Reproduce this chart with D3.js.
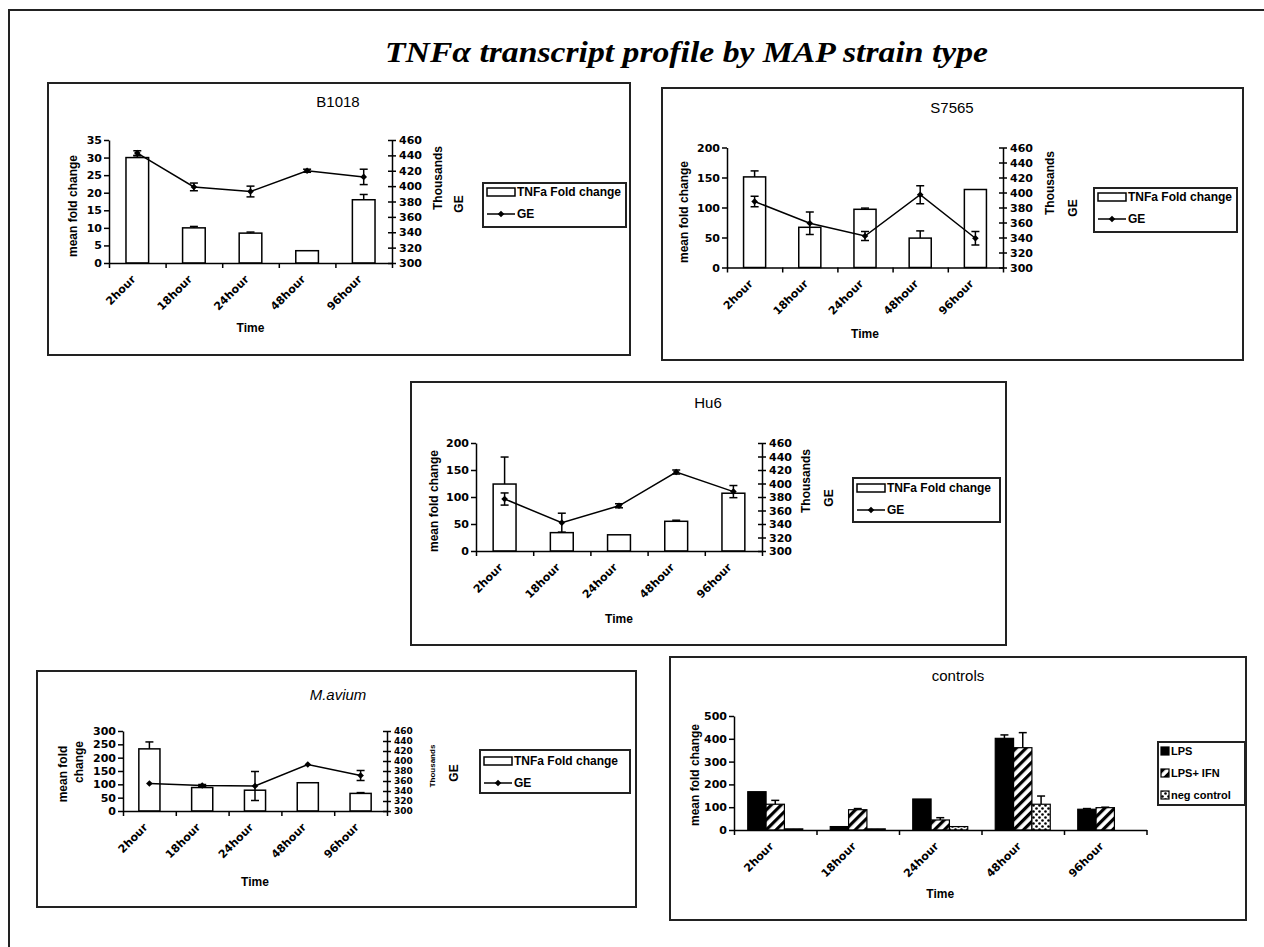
<!DOCTYPE html>
<html><head><meta charset="utf-8">
<script src="https://cdn.jsdelivr.net/npm/d3@7"></script>
<style>body{margin:0;background:#fff}svg{display:block}</style>
</head><body>
<svg id="c" width="1264" height="947"></svg>
<script>
// ---------------- DATA ----------------
const times = ["2hour", "18hour", "24hour", "48hour", "96hour"];
const geTicks = [300, 320, 340, 360, 380, 400, 420, 440, 460];

const b1018Fold = [30, 10, 8.5, 3.5, 18];
const b1018FoldErr = [0.5, 0.4, 0.3, 0, 1.5];
const b1018GE = [443, 399, 393, 420, 412];
const b1018GEErr = [3, 5, 7, 2, 10];
const b1018Ticks = [0, 5, 10, 15, 20, 25, 30, 35];

const s7565Fold = [151, 67, 97, 49, 130];
const s7565FoldErr = [10, 0, 2, 12, 0];
const s7565GE = [388, 359, 342, 397, 339];
const s7565GEErr = [7, 15, 6, 12, 9];
const s7565Ticks = [0, 50, 100, 150, 200];

const hu6Fold = [124, 34, 30, 55, 107];
const hu6FoldErr = [50, 0, 0, 2, 0];
const hu6GE = [377, 342, 367, 417, 388];
const hu6GEErr = [9, 14, 3, 3, 9];
const hu6Ticks = [0, 50, 100, 150, 200];

const maviumFold = [233, 88, 78, 106, 66];
const maviumFoldErr = [26, 2, 0, 0, 3];
const maviumGE = [355, 351, 350, 393, 371];
const maviumGEErr = [0, 2, 29, 0, 10];
const maviumTicks = [0, 50, 100, 150, 200, 250, 300];

const controlSeries = ["LPS", "LPS+ IFN", "neg control"];
const ctrlLPS = [168, 15, 136, 402, 91];
const ctrlLPSErr = [0, 0, 0, 15, 3];
const ctrlLPSIFN = [113, 89, 44, 361, 98];
const ctrlLPSIFNErr = [17, 5, 10, 66, 2];
const ctrlNeg = [5, 5, 15, 113, 0];
const ctrlNegErr = [0, 0, 0, 36, 0];
const ctrlTicks = [0, 100, 200, 300, 400, 500];

// ---------------- DRAWING ----------------
const FONT = "'Liberation Sans', Arial, sans-serif";
const TICKFONT = "'DejaVu Sans', Verdana, sans-serif";
const svg = d3.select("#c");
svg.append("rect").attr("width", 1264).attr("height", 947).attr("fill", "#fff");

const defs = svg.append("defs");
const hatch = defs.append("pattern").attr("id", "hatch").attr("patternUnits", "userSpaceOnUse")
  .attr("width", 7).attr("height", 7).attr("patternTransform", "rotate(45)");
hatch.append("rect").attr("width", 7).attr("height", 7).attr("fill", "#fff");
hatch.append("rect").attr("width", 3.2).attr("height", 7).attr("fill", "#000");
const dots = defs.append("pattern").attr("id", "dots").attr("patternUnits", "userSpaceOnUse")
  .attr("width", 6).attr("height", 6);
dots.append("rect").attr("width", 6).attr("height", 6).attr("fill", "#fff");
dots.append("circle").attr("cx", 1.5).attr("cy", 1.5).attr("r", 1.3).attr("fill", "#000");
dots.append("circle").attr("cx", 4.5).attr("cy", 4.5).attr("r", 1.3).attr("fill", "#000");

// outer frame
svg.append("rect").attr("x", 9).attr("y", 10).attr("width", 1300).attr("height", 1000)
  .attr("fill", "none").attr("stroke", "#222").attr("stroke-width", 2);

svg.append("text").attr("x", 686.5).attr("y", 62).attr("text-anchor", "middle")
  .attr("textLength", 603).attr("lengthAdjust", "spacingAndGlyphs")
  .style("font-family", "'Liberation Serif', 'Times New Roman', serif")
  .style("font-weight", "bold").style("font-style", "italic").style("font-size", "30px")
  .text("TNFα transcript profile by MAP strain type");

function styleText(sel, size, weight, fam) {
  sel.style("font-family", fam || FONT).style("font-size", size + "px").style("font-weight", weight || "bold").attr("fill", "#000");
}

function panelFrame(g, box, title, tx, ty, italic) {
  g.append("rect").attr("x", box[0]).attr("y", box[1]).attr("width", box[2] - box[0]).attr("height", box[3] - box[1])
    .attr("fill", "none").attr("stroke", "#222").attr("stroke-width", 2);
  g.append("text").attr("x", tx).attr("y", ty).attr("text-anchor", "middle").attr("dominant-baseline", "central")
    .call(styleText, 15, "normal").style("font-style", italic ? "italic" : "normal").text(title);
}

function rotLabel(g, x, y, txt, size) {
  g.append("text").attr("transform", `translate(${x},${y}) rotate(-90)`).attr("text-anchor", "middle")
    .attr("dominant-baseline", "central").call(styleText, size || 12).text(txt);
}

function xAxes(g, x, x0, x1, y0, timeY) {
  const xb = d3.scaleLinear().domain([0, times.length]).range([x0, x1]);
  const ax = g.append("g").attr("transform", `translate(0,${y0})`)
    .call(d3.axisBottom(xb).tickValues(d3.range(times.length + 1)).tickFormat("").tickSize(5).tickSizeOuter(0));
  ax.selectAll("path,line").attr("stroke", "#000").attr("stroke-width", 1.5);
  const lab = g.append("g").attr("transform", `translate(0,${y0})`)
    .call(d3.axisBottom(x).tickSize(0).tickPadding(0));
  lab.select(".domain").remove();
  lab.selectAll("text").attr("x", 0).attr("y", 0).attr("dy", null).attr("text-anchor", "end")
    .attr("transform", "translate(-1,17) rotate(-45)").call(styleText, 11, "bold", TICKFONT);
  g.append("text").attr("x", (x0 + x1) / 2).attr("y", timeY).attr("text-anchor", "middle")
    .attr("dominant-baseline", "central").call(styleText, 12).text("Time");
}

function leftAxis(g, yL, ticks, x0) {
  const a = g.append("g").attr("transform", `translate(${x0},0)`)
    .call(d3.axisLeft(yL).tickValues(ticks).tickSize(5).tickSizeOuter(0).tickPadding(2));
  a.selectAll("path,line").attr("stroke", "#000").attr("stroke-width", 1.5);
  a.selectAll("text").call(styleText, 11, "bold", TICKFONT);
}

function errBar(g, cx, yTop, yBot, capW) {
  g.append("line").attr("x1", cx).attr("x2", cx).attr("y1", yTop).attr("y2", yBot).attr("stroke", "#000").attr("stroke-width", 1.5);
  g.append("line").attr("x1", cx - capW / 2).attr("x2", cx + capW / 2).attr("y1", yTop).attr("y2", yTop).attr("stroke", "#000").attr("stroke-width", 1.5);
}

function comboPanel(p) {
  const g = svg.append("g");
  panelFrame(g, p.box, p.title, p.titleXY[0], p.titleXY[1], p.italic);
  const x = d3.scaleBand().domain(times).range([p.x0, p.x1]);
  const yL = d3.scaleLinear().domain([0, d3.max(p.leftTicks)]).range([p.y0, p.yTop]);
  const yR = d3.scaleLinear().domain([d3.min(geTicks), d3.max(geTicks)]).range([p.y0, p.yTop]);
  const bw = x.bandwidth() * 0.4;
  const cx = d => x(d) + x.bandwidth() / 2;

  g.selectAll(".bar").data(times).join("rect")
    .attr("x", d => cx(d) - bw / 2).attr("y", (d, i) => yL(p.fold[i]))
    .attr("width", bw).attr("height", (d, i) => yL(0) - yL(p.fold[i]))
    .attr("fill", "#fff").attr("stroke", "#000").attr("stroke-width", 1.5);
  times.forEach((d, i) => {
    if (p.foldErr[i] > 0) errBar(g, cx(d), yL(p.fold[i] + p.foldErr[i]), yL(p.fold[i]), 8);
  });

  leftAxis(g, yL, p.leftTicks, p.x0);
  const ra = g.append("g").attr("transform", `translate(${p.x1},0)`)
    .call(d3.axisRight(yR).tickValues(geTicks).tickSize(4).tickSizeOuter(0).tickPadding(3));
  ra.selectAll("path,line").attr("stroke", "#000").attr("stroke-width", 1.5);
  ra.selectAll(".tick line").attr("x1", -4);
  ra.selectAll("text").call(styleText, p.rightTickSize || 11, "bold", TICKFONT);
  xAxes(g, x, p.x0, p.x1, p.y0, p.timeY);

  const line = d3.line().x((v, i) => cx(times[i])).y(v => yR(v));
  g.append("path").datum(p.ge).attr("d", line).attr("fill", "none").attr("stroke", "#000").attr("stroke-width", 1.5);
  times.forEach((d, i) => {
    const e = p.geErr[i];
    if (e > 0) {
      const yt = yR(p.ge[i] + e), yb = yR(p.ge[i] - e);
      g.append("line").attr("x1", cx(d)).attr("x2", cx(d)).attr("y1", yt).attr("y2", yb).attr("stroke", "#000").attr("stroke-width", 1.5);
      [yt, yb].forEach(yy => g.append("line").attr("x1", cx(d) - 4).attr("x2", cx(d) + 4).attr("y1", yy).attr("y2", yy).attr("stroke", "#000").attr("stroke-width", 1.5));
    }
  });
  g.selectAll(".mk").data(p.ge).join("path")
    .attr("d", d3.symbol(d3.symbolSquare, 22))
    .attr("transform", (v, i) => `translate(${cx(times[i])},${yR(v)}) rotate(45)`).attr("fill", "#000");

  // axis titles
  if (Array.isArray(p.leftLabel)) {
    p.leftLabel.forEach(l => rotLabel(g, l[1], l[2], l[0]));
  } else rotLabel(g, p.leftLabelXY[0], p.leftLabelXY[1], p.leftLabel);
  rotLabel(g, p.thouXY[0], p.thouXY[1], "Thousands", p.thouSize || 12);
  rotLabel(g, p.geXY[0], p.geXY[1], "GE");

  // legend
  const L = p.legend;
  g.append("rect").attr("x", L[0]).attr("y", L[1]).attr("width", L[2] - L[0]).attr("height", L[3] - L[1])
    .attr("fill", "#fff").attr("stroke", "#222").attr("stroke-width", 2);
  g.append("rect").attr("x", L[0] + 4).attr("y", p.legendRows[0] - 4).attr("width", 28).attr("height", 8)
    .attr("fill", "#fff").attr("stroke", "#000").attr("stroke-width", 1.5);
  g.append("text").attr("x", L[0] + 34).attr("y", p.legendRows[0]).attr("dominant-baseline", "central")
    .call(styleText, 12).text("TNFa Fold change");
  g.append("line").attr("x1", L[0] + 4).attr("x2", L[0] + 32).attr("y1", p.legendRows[1]).attr("y2", p.legendRows[1])
    .attr("stroke", "#000").attr("stroke-width", 1.5);
  g.append("path").attr("d", d3.symbol(d3.symbolSquare, 22)())
    .attr("transform", `translate(${L[0] + 18},${p.legendRows[1]}) rotate(45)`).attr("fill", "#000");
  g.append("text").attr("x", L[0] + 34).attr("y", p.legendRows[1]).attr("dominant-baseline", "central")
    .call(styleText, 12).text("GE");
}

comboPanel({
  box: [48, 83, 630, 355], title: "B1018", titleXY: [338, 101],
  x0: 109, x1: 392, y0: 263, yTop: 140, timeY: 328,
  leftTicks: b1018Ticks, fold: b1018Fold, foldErr: b1018FoldErr, ge: b1018GE, geErr: b1018GEErr,
  leftLabel: "mean fold change", leftLabelXY: [73, 206],
  thouXY: [438, 178], geXY: [459, 204],
  legend: [483, 183, 626, 227], legendRows: [192, 214]
});
comboPanel({
  box: [662, 88, 1243, 360], title: "S7565", titleXY: [952, 107],
  x0: 727, x1: 1003, y0: 267.5, yTop: 147.5, timeY: 334,
  leftTicks: s7565Ticks, fold: s7565Fold, foldErr: s7565FoldErr, ge: s7565GE, geErr: s7565GEErr,
  leftLabel: "mean fold change", leftLabelXY: [684, 212],
  thouXY: [1050, 183], geXY: [1073, 208],
  legend: [1094, 188, 1237, 232], legendRows: [197, 219]
});
comboPanel({
  box: [411, 382, 1006, 645], title: "Hu6", titleXY: [708, 402],
  x0: 476, x1: 762, y0: 551, yTop: 443, timeY: 619,
  leftTicks: hu6Ticks, fold: hu6Fold, foldErr: hu6FoldErr, ge: hu6GE, geErr: hu6GEErr,
  leftLabel: "mean fold change", leftLabelXY: [434, 501],
  thouXY: [806, 481], geXY: [829, 498],
  legend: [853, 478, 1000, 522], legendRows: [488, 510]
});
comboPanel({
  box: [37, 671, 636, 907], title: "M.avium", titleXY: [338, 694], italic: true,
  x0: 123, x1: 387, y0: 811, yTop: 731, timeY: 882,
  leftTicks: maviumTicks, fold: maviumFold, foldErr: maviumFoldErr, ge: maviumGE, geErr: maviumGEErr,
  leftLabel: [["mean fold", 63, 774], ["change", 79, 762]],
  thouXY: [432, 766], thouSize: 8, geXY: [454, 773], rightTickSize: 9,
  legend: [480, 750, 630, 793], legendRows: [761, 783]
});

// ---- controls panel ----
(function () {
  const g = svg.append("g");
  panelFrame(g, [670, 657, 1246, 920], "controls", 958, 675, false);
  const x0 = 734, x1 = 1146.5, y0 = 830, yTop = 716;
  const x = d3.scaleBand().domain(times).range([x0, x1]);
  const inner = d3.scaleBand().domain(controlSeries).range([0, x.bandwidth()]).paddingInner(0).paddingOuter(0.75);
  const y = d3.scaleLinear().domain([0, d3.max(ctrlTicks)]).range([y0, yTop]);
  const vals = [ctrlLPS, ctrlLPSIFN, ctrlNeg];
  const errs = [ctrlLPSErr, ctrlLPSIFNErr, ctrlNegErr];
  const fills = ["#000", "url(#hatch)", "url(#dots)"];
  controlSeries.forEach((s, si) => {
    g.selectAll(".b" + si).data(times).join("rect")
      .attr("x", d => x(d) + inner(s)).attr("y", (d, i) => y(vals[si][i]))
      .attr("width", inner.bandwidth()).attr("height", (d, i) => y(0) - y(vals[si][i]))
      .attr("fill", fills[si]).attr("stroke", "#000").attr("stroke-width", 1.2);
  });
  controlSeries.forEach((s, si) => {
    times.forEach((d, i) => {
      if (errs[si][i] > 0) {
        const c = x(d) + inner(s) + inner.bandwidth() / 2;
        errBar(g, c, y(vals[si][i] + errs[si][i]), y(vals[si][i]), 8);
      }
    });
  });
  leftAxis(g, y, ctrlTicks, x0);
  xAxes(g, x, x0, x1, y0, 894);
  rotLabel(g, 695, 775, "mean fold change");
  const L = [1158, 742, 1245, 805], rows = [751, 773, 795];
  g.append("rect").attr("x", L[0]).attr("y", L[1]).attr("width", L[2] - L[0]).attr("height", L[3] - L[1])
    .attr("fill", "#fff").attr("stroke", "#222").attr("stroke-width", 2);
  controlSeries.forEach((s, si) => {
    g.append("rect").attr("x", L[0] + 3).attr("y", rows[si] - 4).attr("width", 8).attr("height", 8)
      .attr("fill", fills[si]).attr("stroke", "#000").attr("stroke-width", 1.2);
    g.append("text").attr("x", L[0] + 13).attr("y", rows[si]).attr("dominant-baseline", "central")
      .call(styleText, 11).text(s);
  });
})();
</script>
</body></html>
